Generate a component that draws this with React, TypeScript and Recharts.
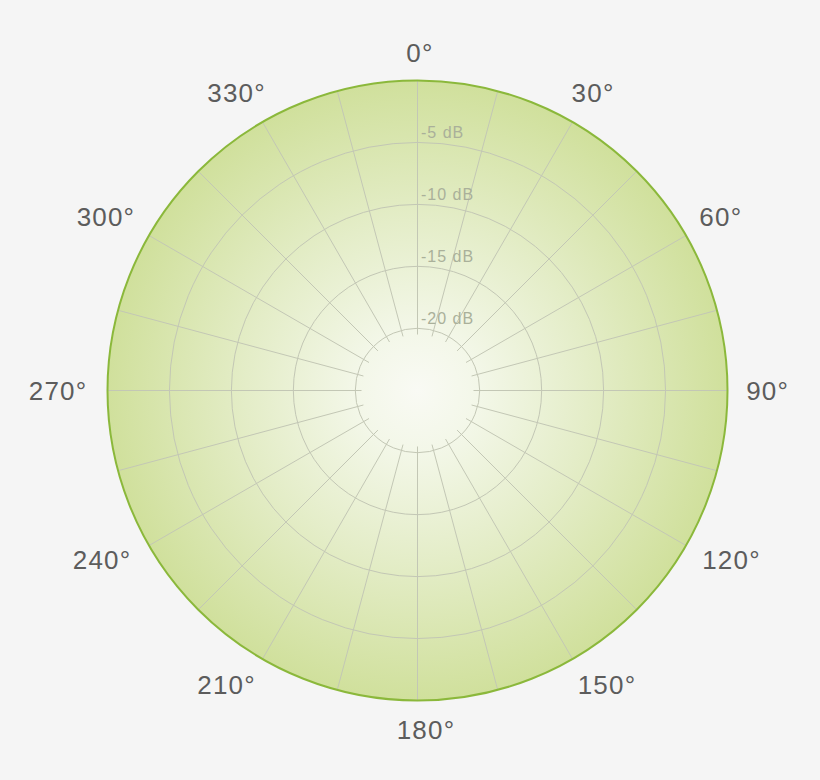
import { RadarChart, Radar, PolarGrid, PolarAngleAxis, PolarRadiusAxis } from 'recharts'

// angular positions of the grid spokes (degrees, clockwise from top)
const ANGLES = [0, 15, 30, 45, 60, 75, 90, 105, 120, 135, 150, 165, 180, 195, 210, 225, 240, 255, 270, 285, 300, 315, 330, 345]
// boundary of the plot (0 dB all round)
const BOUNDARY_DB = [0, 0, 0, 0, 0, 0, 0, 0, 0, 0, 0, 0, 0, 0, 0, 0, 0, 0, 0, 0, 0, 0, 0, 0]
// dB rings
const DB_TICKS = [-20, -15, -10, -5]
// dB level where the spokes start (inner hole)
const DB_MIN = -20.5
const DB_MAX = 0

const data = ANGLES.map((angle, i) => ({ angle, level: BOUNDARY_DB[i] }))

const W = 820
const H = 780
const CX = 417.5
const CY = 390.5
const OUTER = 310
const INNER = 56

const RADIAN = Math.PI / 180

const DiskShape = (props: any) => {
  const pts = props.points || []
  if (!pts.length) return <g />
  const { cx, cy } = pts[0]
  const r = Math.hypot(pts[0].x - cx, pts[0].y - cy)
  return (
    <g>
      <defs>
        <radialGradient id="diskFill" cx="50%" cy="50%" r="50%">
          <stop offset="0%" stopColor="#f9faf4" />
          <stop offset="20%" stopColor="#f3f7e8" />
          <stop offset="55%" stopColor="#e4edc8" />
          <stop offset="100%" stopColor="#d0e09c" />
        </radialGradient>
      </defs>
      <circle cx={cx} cy={cy} r={r} fill="url(#diskFill)" stroke="none" />
    </g>
  )
}

const RimShape = (props: any) => {
  const pts = props.points || []
  if (!pts.length) return <g />
  const { cx, cy } = pts[0]
  const r = Math.hypot(pts[0].x - cx, pts[0].y - cy)
  return <circle cx={cx} cy={cy} r={r} fill="none" stroke="#8bb83b" strokeWidth={2} />
}

// label box is pushed away from the rim: fully sideways on the flanks, less near the top
const AngleTick = (props: any) => {
  const { x, y, payload } = props
  const value = payload.value
  if (value % 30 !== 0) return <g />
  const a = payload.coordinate * RADIAN
  const ux = Math.cos(-a)
  const uy = Math.sin(-a)
  const hw = 5.5 + String(value).length * 7.8
  const fx = Math.min(1, Math.abs(ux) * (1 + 0.8 * Math.max(0, uy))) * Math.sign(ux)
  const centred = Math.abs(ux) < 0.01
  let dx = ux > 0.01 ? 1 : -2.5
  if (centred) dx = uy > 0 ? 8.5 : 2.5
  const dy = uy < 0 ? 9.5 * uy - 5 * Math.min(1, 2 * Math.abs(ux)) : 11.5 * uy
  return (
    <text
      x={x + hw * fx + dx}
      y={y + dy}
      textAnchor="middle"
      dominantBaseline="central"
      fill="#5c5c5c"
      fontSize={26}
      letterSpacing={1.2}
      fontFamily="'Liberation Sans', Arial, sans-serif"
    >
      {`${value}°`}
    </text>
  )
}

const RadiusTick = (props: any) => {
  const { x, y, payload } = props
  return (
    <text
      x={x + 3.5}
      y={y - 4}
      fill="#aab09a"
      fontSize={16}
      letterSpacing={1}
      fontFamily="'Liberation Sans', Arial, sans-serif"
    >
      {`${payload.value} dB`}
    </text>
  )
}

export default function App() {
  const common = {
    width: W,
    height: H,
    data,
    cx: CX,
    cy: CY,
    innerRadius: INNER,
    outerRadius: OUTER,
    startAngle: 90,
    endAngle: -270,
    margin: { top: 0, right: 0, bottom: 0, left: 0 }
  }
  return (
    <div style={{ position: 'relative', width: W, height: H, background: '#f5f5f5' }}>
      <style>{'body{margin:0;background:#f5f5f5}'}</style>
      <div style={{ position: 'absolute', left: 0, top: 0 }}>
        <RadarChart {...common}>
          <PolarAngleAxis dataKey="angle" tick={false} axisLine={false} tickLine={false} />
          <PolarRadiusAxis domain={[DB_MIN, DB_MAX]} type="number" tick={false} axisLine={false} tickLine={false} />
          <Radar dataKey="level" isAnimationActive={false} shape={DiskShape} dot={false} />
        </RadarChart>
      </div>
      <div style={{ position: 'absolute', left: 0, top: 0 }}>
        <RadarChart {...common}>
          <PolarGrid gridType="circle" stroke="#c3c7b5" strokeWidth={1} />
          <PolarAngleAxis dataKey="angle" tick={AngleTick} tickSize={18} axisLine={false} tickLine={false} />
          <PolarRadiusAxis
            angle={90}
            domain={[DB_MIN, DB_MAX]}
            type="number"
            ticks={DB_TICKS}
            tick={RadiusTick}
            axisLine={false}
            tickLine={false}
          />
          <Radar dataKey="level" isAnimationActive={false} shape={RimShape} dot={false} />
        </RadarChart>
      </div>
    </div>
  )
}
